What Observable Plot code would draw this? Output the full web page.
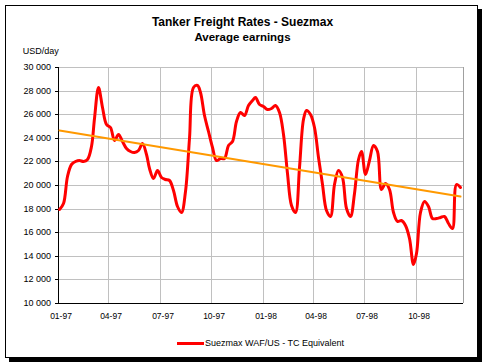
<!DOCTYPE html>
<html>
<head>
<meta charset="utf-8">
<script src="https://cdn.jsdelivr.net/npm/d3@7"></script>
<script src="https://cdn.jsdelivr.net/npm/@observablehq/plot@0.6"></script>
<style>
  html, body { margin: 0; padding: 0; background: #fff; }
  body { width: 485px; height: 363px; position: relative; overflow: hidden; font-family: "Liberation Sans", Arial, sans-serif; }
  .abs { position: absolute; white-space: nowrap; line-height: 1; color: #000; }
  #frame { position: absolute; left: 5px; top: 5px; width: 473px; height: 353px; box-sizing: border-box; border: 1px solid #000; box-shadow: 4px 4px 0 #000; pointer-events: none; }
  #chart { position: absolute; left: 0; top: 0; }
</style>
</head>
<body>
<div id="chart"></div>
<div id="frame"></div>
<div class="abs" id="title" style="left:0;width:485px;text-align:center;top:16.3px;font-size:12px;font-weight:bold;">Tanker Freight Rates - Suezmax</div>
<div class="abs" id="subtitle" style="left:0;width:485px;text-align:center;top:32.3px;font-size:11.5px;font-weight:bold;">Average earnings</div>
<div class="abs" id="ylabel" style="left:22.7px;top:46.5px;font-size:9px;">USD/day</div>
<div class="abs" id="legline" style="left:177px;top:341.5px;width:27px;height:3px;background:#ff0000;"></div>
<div class="abs" id="legtext" style="left:205px;top:338.9px;font-size:9px;">Suezmax WAF/US - TC Equivalent</div>
<script>
// Weekly average earnings, USD/day, weeks starting 3 Jan 1997
const firstWeek = "1997-01-03";
const earnings = [
  18000, 18500, 20800, 21800, 22050, 22150, 22050, 22200, 23300, 25700,
  28300, 26600, 25150, 24950, 23800, 24300, 23700, 23100, 22900, 22800,
  22950, 23600, 22600, 21450, 20600, 21300, 20700, 20500, 20400, 19600,
  18200, 17700, 19500, 24000, 28300, 28450, 27850, 25900, 24540, 23200,
  22100, 22300, 22300, 23400, 23700, 25400, 26200, 25950, 26800, 27200,
  27450, 26900, 26670, 26400, 26530, 26750, 26200, 24300, 21000, 18300,
  17750, 21500, 25600, 26380, 26000, 24900, 22400, 20100, 17850, 17400,
  20100, 21300, 20700, 18050, 17350, 19300, 22200, 22900, 20900, 22100,
  23400, 22900, 19700, 20200, 19700, 17700, 16950, 17050, 16650, 15500,
  13300, 14200, 17700, 18650, 18200, 17200, 17200, 17300, 17400, 16800,
  16350, 20100, 19850
];
// Linear trend line end values
const trendValues = [24650, 19070];
// Axis ticks
const xTickDates = ["1997-01-01","1997-04-01","1997-07-01","1997-10-01","1998-01-01","1998-04-01","1998-07-01","1998-10-01"];
const xDomain = ["1997-01-01", "1998-12-24"];
const yTicks = [10000, 12000, 14000, 16000, 18000, 20000, 22000, 24000, 26000, 28000, 30000];
const yDomain = [10000, 30000];

const parse = d3.utcParse("%Y-%m-%d");
const start = parse(firstWeek);
const series = earnings.map((v, k) => ({date: d3.utcDay.offset(start, 7 * k), value: v}));
const trend = [
  {date: series[0].date, value: trendValues[0]},
  {date: series[series.length - 1].date, value: trendValues[1]}
];
const xt = xTickDates.map(parse);
const xd = xDomain.map(parse);
const fmt = d3.formatLocale({decimal: ".", thousands: " ", grouping: [3], currency: ["", ""]}).format(",");

const chart = Plot.plot({
  width: 485,
  height: 363,
  marginLeft: 58,
  marginTop: 67,
  marginRight: 22,
  marginBottom: 60,
  style: {background: "transparent", fontFamily: "'Liberation Sans', Arial, sans-serif", fontSize: "9px", color: "#000", overflow: "visible"},
  x: {type: "utc", domain: xd, round: true},
  y: {domain: yDomain, round: true},
  marks: [
    Plot.gridY(yTicks.slice(1), {stroke: "#c0c0c0", strokeOpacity: 1}),
    Plot.gridX(xt.slice(1), {stroke: "#c0c0c0", strokeOpacity: 1}),
    Plot.ruleX([xd[1]], {stroke: "#a0a0a0", strokeOpacity: 1}),
    Plot.ruleX([xd[0]], {stroke: "#000"}),
    Plot.ruleY([yDomain[0]], {stroke: "#000"}),
    Plot.line(series, {x: "date", y: "value", stroke: "#ff0000", strokeWidth: 3, curve: "catmull-rom", strokeLinejoin: "round"}),
    Plot.line(trend, {x: "date", y: "value", stroke: "#ff9900", strokeWidth: 2}),
    Plot.axisY(yTicks, {tickSize: 3, tickPadding: 4.5, tickFormat: fmt, label: null, fontSize: 9}),
    Plot.axisX(xt, {tickSize: 0, tickPadding: 9, tickFormat: d3.utcFormat("%m-%y"), label: null, dx: 2.5, fontSize: 8.5})
  ]
});
document.getElementById("chart").appendChild(chart);
</script>
</body>
</html>
